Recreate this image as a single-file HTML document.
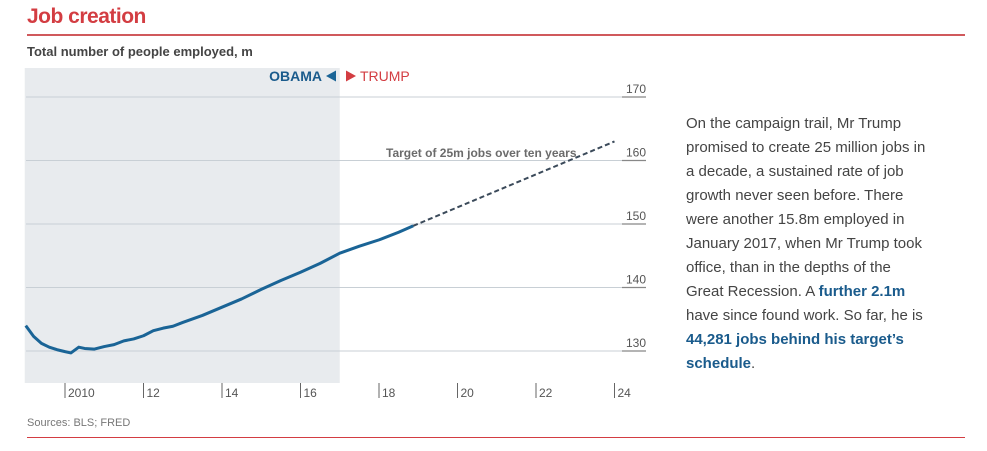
<!DOCTYPE html>
<html><head><meta charset="utf-8"><style>
body{margin:0;width:987px;height:451px;background:#fff;font-family:"Liberation Sans",sans-serif;position:relative;overflow:hidden}
.abs{position:absolute;white-space:nowrap}
#title{left:27px;top:5px;font-size:21px;color:#d33d42;font-weight:bold;letter-spacing:-0.5px}
#rule1{left:27px;top:34px;width:938px;height:2px;background:#d0595c}
#sub{left:27px;top:44px;font-size:13px;font-weight:bold;color:#444}
#src{left:27px;top:417px;font-size:11px;color:#777}
#rule2{left:27px;top:437px;width:938px;height:1px;background:#d33d42}
#txt{left:686px;top:112px;font-size:15px;line-height:24px;color:#444;white-space:nowrap}
#txt b{color:#1a5b8c}
</style></head><body>
<div class="abs" id="title">Job creation</div>
<div class="abs" id="rule1"></div>
<div class="abs" id="sub">Total number of people employed, m</div>
<svg id="chart" width="987" height="451" style="position:absolute;left:0;top:0" font-family="Liberation Sans, sans-serif"></svg>
<div class="abs" id="src">Sources: BLS; FRED</div>
<div class="abs" id="rule2"></div>
<div class="abs" id="txt">On the campaign trail, Mr Trump<br>promised to create 25 million jobs in<br>a decade, a sustained rate of job<br>growth never seen before. There<br>were another 15.8m employed in<br>January 2017, when Mr Trump took<br>office, than in the depths of the<br>Great Recession. A <b>further 2.1m</b><br>have since found work. So far, he is<br><b>44,281 jobs behind his target’s<br>schedule</b>.</div>
<script>
const years=[2009.0,2009.2,2009.4,2009.6,2009.8,2010.0,2010.15,2010.35,2010.5,2010.75,2011.0,2011.25,2011.5,2011.75,2012.0,2012.25,2012.5,2012.75,2013.0,2013.5,2014.0,2014.5,2015.0,2015.5,2016.0,2016.5,2017.0,2017.5,2018.0,2018.5,2018.87];
const employed=[134.0,132.3,131.2,130.6,130.2,129.9,129.7,130.6,130.4,130.3,130.7,131.0,131.6,131.9,132.4,133.2,133.6,133.9,134.5,135.6,136.9,138.2,139.7,141.1,142.4,143.8,145.4,146.5,147.5,148.7,149.7];
const targetYears=[2018.87,2024.0];
const targetValues=[149.7,163.0];
const yTicks=[130,140,150,160,170];
const xTicks=[2010,2012,2014,2016,2018,2020,2022,2024];
const xTickLabels=["2010","12","14","16","18","20","22","24"];
const ns="http://www.w3.org/2000/svg",svg=document.getElementById('chart');
const X=y=>65+(y-2010)*39.25, Y=v=>351-(v-130)*6.35;
function mk(t,a,p){const e=document.createElementNS(ns,t);for(const k in a)e.setAttribute(k,a[k]);(p||svg).appendChild(e);return e;}
const sh=mk('rect',{x:X(2009.0)-1,y:68,width:X(2017.0)-X(2009.0)+1,height:315,fill:'#e8ebee'});


yTicks.forEach(v=>{
 const l=mk('line',{x1:26,x2:646,y1:Y(v),y2:Y(v),stroke:'#c8cfd5','stroke-width':1});
 
 
 mk('line',{x1:622,x2:646,y1:Y(v),y2:Y(v),stroke:'#888','stroke-width':1.2});
 const t=mk('text',{x:646,y:Y(v)-4,'text-anchor':'end','font-size':12,fill:'#555'});t.textContent=v;
 
 
});
xTicks.forEach((yr,i)=>{
 mk('line',{x1:X(yr),x2:X(yr),y1:383,y2:398,stroke:'#666','stroke-width':1});
 const t=mk('text',{x:X(yr)+3,y:397,'font-size':12,fill:'#555'});t.textContent=xTickLabels[i];
 
 
});
const tl=mk('polyline',{points:targetYears.map((y,i)=>X(y)+','+Y(targetValues[i])).join(' '),fill:'none',stroke:'#3b4a5a','stroke-width':2,'stroke-dasharray':'5,3'});


const ln=mk('polyline',{points:years.map((y,i)=>X(y)+','+Y(employed[i])).join(' '),fill:'none',stroke:'#1a6496','stroke-width':3,'stroke-linejoin':'round'});


const tt=mk('text',{x:386,y:157,'font-size':12,'font-weight':'bold',fill:'#6b6b6b'});tt.textContent='Target of 25m jobs over ten years';


const ob=mk('text',{x:322,y:81,'text-anchor':'end','font-size':14,'font-weight':'bold',fill:'#1a5b8c'});ob.textContent='OBAMA';


mk('polygon',{points:'326,76 336,70.5 336,81.5',fill:'#1a6496'});
mk('polygon',{points:'346,70.5 356,76 346,81.5',fill:'#d33d42'});
const tr=mk('text',{x:360,y:81,'font-size':14,fill:'#d33d42'});tr.textContent='TRUMP';


</script>
</body></html>
